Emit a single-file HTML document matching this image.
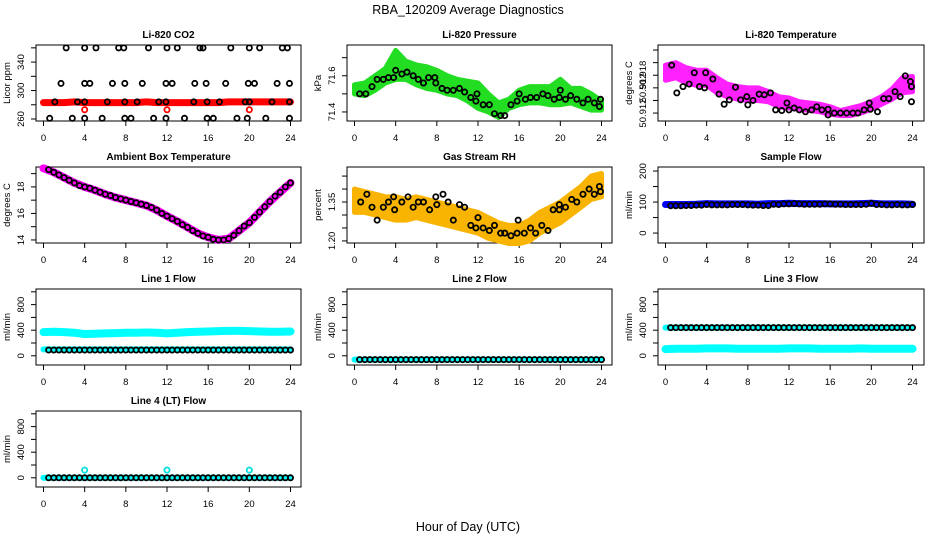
<!DOCTYPE html>
<html><head><meta charset="utf-8">
<style>
body{margin:0;background:#fff;}
svg{display:block;font-family:"Liberation Sans",Arial,sans-serif;}
</style></head>
<body>
<svg id="chart" width="936" height="540" viewBox="0 0 936 540">
<text x="468" y="14" text-anchor="middle" font-size="12.5">RBA_120209  Average Diagnostics</text>
<text x="468" y="531" text-anchor="middle" font-size="12.5">Hour of Day (UTC)</text>
</svg>
<script>
// ---- data arrays ----
const hourTicks = [0,4,8,12,16,20,24];
const bandHours = [0,1,2,3,4,5,6,7,8,9,10,11,12,13,14,15,16,17,18,19,20,21,22,23,24];
const halfHours = [0.5,1,1.5,2,2.5,3,3.5,4,4.5,5,5.5,6,6.5,7,7.5,8,8.5,9,9.5,10,10.5,11,11.5,12,12.5,13,13.5,14,14.5,15,15.5,16,16.5,17,17.5,18,18.5,19,19.5,20,20.5,21,21.5,22,22.5,23,23.5,24];

// CO2
const co2Hours = [2.2,4,5.1,7.3,7.8,10.2,12,13,15.2,15.5,18.2,20,21,23.2,23.7, 1.7,4,4.5,6.7,7.9,9.6,11.9,12.5,14.7,15.8,17.7,19.9,20.5,22.7,23.9, 1.1,3.3,4,6.2,7.9,9.1,11.2,11.9,14.6,15.9,17.1,19.6,20,22.2,23.9, 0.6,2.8,4,5.7,7.9,8.5,10.7,11.9,13.7,15.9,16.5,18.8,19.8,21.6,23.9];
const co2Values = [360,360,360,360,360,360,360,360,360,360,360,360,360,360,360, 310,310,310,310,310,310,310,310,310,310,310,310,310,310,310, 284,284,284,284,284,284,284,284,284,284,284,284,284,284,284, 261,261,261,261,261,261,261,261,261,261,261,261,261,261,261];
const co2Band = [283,283,283,284,283,283,283,283,283,283,284,283,283,283,283,283,283,283,284,284,284,284,284,284,284];
const co2RedHours = [4,12,20];
const co2RedValues = [273,273,273];

// Pressure
const presLo = [71.50,71.49,71.52,71.56,71.58,71.58,71.55,71.53,71.52,71.50,71.49,71.46,71.42,71.40,71.37,71.42,71.44,71.45,71.45,71.44,71.44,71.45,71.43,71.41,71.41];
const presHi = [71.55,71.56,71.60,71.64,71.74,71.68,71.66,71.65,71.63,71.60,71.58,71.57,71.56,71.50,71.45,71.47,71.52,71.54,71.54,71.54,71.58,71.53,71.53,71.50,71.46];
const presHours = [0.5,1.1,1.7,2.2,2.8,3.3,3.8,4,4.6,5.1,5.7,6.2,6.7,7.2,7.8,7.9,8.5,9,9.6,10.2,10.7,11.3,11.8,11.9,12.5,13.1,13.6,14.2,14.6,15.2,15.8,16,16.6,17.1,17.7,18.3,18.8,19.4,19.9,20,20.5,21,21.6,22.2,22.7,23.3,23.8,23.9];
const presValues = [71.50,71.50,71.54,71.58,71.58,71.59,71.59,71.63,71.61,71.62,71.60,71.58,71.56,71.59,71.59,71.56,71.53,71.52,71.52,71.53,71.51,71.48,71.46,71.50,71.44,71.44,71.39,71.38,71.38,71.44,71.46,71.50,71.47,71.48,71.48,71.50,71.49,71.47,71.48,71.52,71.47,71.49,71.47,71.45,71.47,71.45,71.43,71.47];

// Li-820 temperature (tick units)
const ltLo = [2.6,2.8,2.4,2.2,2.2,1.6,1.3,1.1,1.0,1.0,0.9,0.5,0.4,0.3,0.2,0.1,-0.1,-0.2,-0.2,0.0,0.3,0.7,1.1,1.6,1.7];
const ltHi = [3.8,4.0,3.6,3.4,3.4,2.8,2.3,2.1,2.0,2.0,1.7,1.3,1.2,0.9,0.8,0.7,0.5,0.2,0.4,0.6,0.9,1.3,1.9,2.8,2.9];
const ltHours = [0.6,1.1,1.7,2.3,2.8,3.3,3.8,3.9,4.6,5.2,5.7,6.2,6.8,7.3,7.9,8,8.5,9.1,9.6,10.2,10.7,11.3,11.8,12,12.5,13,13.6,14.2,14.7,15.2,15.8,15.8,16.4,17,17.6,18.2,18.7,19.3,19.8,19.9,20.6,21.2,21.7,22.3,22.8,23.3,23.8,23.9,23.9];
const ltValues = [3.8,1.6,2.1,2.3,3.2,2.1,2.0,3.2,2.7,1.5,0.7,1.05,2.05,1.05,1.3,0.65,1.0,1.5,1.45,1.6,0.25,0.2,0.8,0.25,0.4,0.25,0.1,0.25,0.5,0.25,0.3,-0.15,0,0,0,0,0,0.25,0.8,0.3,0.1,1.15,1.15,1.7,1.3,2.95,2.5,2.1,0.9];

// Ambient box temperature
const ambBand = [19.4,19.1,18.7,18.3,18.0,17.75,17.45,17.2,17.0,16.8,16.6,16.25,15.8,15.4,14.95,14.5,14.2,14.0,14.1,14.7,15.3,16.1,16.9,17.6,18.3];
const ambValues = [19.3,19.1,18.9,18.7,18.5,18.3,18.1,18.0,17.9,17.75,17.6,17.45,17.35,17.2,17.1,17.0,16.9,16.8,16.7,16.6,16.45,16.25,16.0,15.8,15.6,15.4,15.15,14.95,14.7,14.5,14.3,14.2,14.05,14.0,14.0,14.1,14.35,14.7,15.05,15.3,15.7,16.1,16.5,16.9,17.3,17.6,18.0,18.3];

// Gas stream RH
const rhLo = [1.31,1.31,1.30,1.29,1.28,1.28,1.29,1.28,1.27,1.26,1.25,1.24,1.23,1.21,1.20,1.19,1.19,1.20,1.23,1.25,1.27,1.30,1.33,1.36,1.37];
const rhHi = [1.40,1.39,1.38,1.37,1.37,1.36,1.37,1.36,1.35,1.34,1.33,1.32,1.31,1.29,1.27,1.26,1.26,1.28,1.31,1.33,1.35,1.38,1.41,1.45,1.46];
const rhHours = [0.6,1.2,1.7,2.2,2.8,3.3,3.8,3.9,4.6,5.2,5.7,6.2,6.7,7.3,7.9,8,8.6,9.1,9.6,10.2,10.7,11.3,11.8,12,12.5,13.1,13.6,14.2,14.6,15.2,15.8,15.9,16.5,17.1,17.6,18.2,18.8,19.3,19.9,19.9,20.5,21.1,21.6,22.2,22.8,23.3,23.8,23.9];
const rhValues = [1.35,1.38,1.33,1.28,1.33,1.35,1.37,1.32,1.35,1.37,1.33,1.35,1.35,1.32,1.37,1.34,1.38,1.35,1.28,1.34,1.33,1.26,1.25,1.29,1.25,1.24,1.26,1.23,1.23,1.22,1.23,1.28,1.23,1.25,1.23,1.26,1.24,1.32,1.32,1.34,1.33,1.36,1.35,1.38,1.40,1.38,1.41,1.39];

// Sample flow
const sampleBand = [92,92,92,93,95,94,94,94,94,93,95,95,96,95,95,95,94,94,94,95,96,94,94,94,93];
const sampleValues = [88,88,88,89,89,90,90,92,91,91,91,91,92,92,92,91,90,90,89,89,93,92,94,94,95,94,93,93,93,93,94,94,93,93,92,92,92,92,93,96,92,92,91,91,92,91,91,92];

// Line flows
const l1Upper = [370,375,370,360,340,345,350,355,360,360,365,360,350,360,370,375,380,385,390,390,385,380,375,375,380];
const l1Lower = [100,100,100,100,100,100,100,100,100,100,100,100,100,100,100,100,100,100,100,100,100,100,100,100,100];
const l1Values = [90,90,90,90,90,90,90,90,90,90,90,90,90,90,90,90,90,90,90,90,90,90,90,90,90,90,90,90,90,90,90,90,90,90,90,90,90,90,90,90,90,90,90,90,90,90,90,90];
const l2Band = [-60,-60,-60,-60,-60,-60,-60,-60,-60,-60,-60,-60,-60,-60,-60,-60,-60,-60,-60,-60,-60,-60,-60,-60,-60];
const l2Values = [-60,-60,-60,-60,-60,-60,-60,-60,-60,-60,-60,-60,-60,-60,-60,-60,-60,-60,-60,-60,-60,-60,-60,-60,-60,-60,-60,-60,-60,-60,-60,-60,-60,-60,-60,-60,-60,-60,-60,-60,-60,-60,-60,-60,-60,-60,-60,-60];
const l3Upper = [440,440,440,440,440,440,440,440,440,440,440,440,440,440,440,440,440,440,440,440,440,440,440,440,440];
const l3Lower = [105,110,110,110,115,115,115,110,110,110,110,110,115,115,115,110,110,110,110,115,110,110,110,110,110];
const l3Values = [440,440,440,440,440,440,440,440,440,440,440,440,440,440,440,440,440,440,440,440,440,440,440,440,440,440,440,440,440,440,440,440,440,440,440,440,440,440,440,440,440,440,440,440,440,440,440,440];
const l4Band = [0,0,0,0,0,0,0,0,0,0,0,0,0,0,0,0,0,0,0,0,0,0,0,0,0];
const l4Values = [0,0,0,0,0,0,0,0,0,0,0,0,0,0,0,0,0,0,0,0,0,0,0,0,0,0,0,0,0,0,0,0,0,0,0,0,0,0,0,0,0,0,0,0,0,0,0,0];
const l4OutHours = [4,12,20];
const l4OutValues = [120,120,120];

// ---- rendering ----
const NS = "http://www.w3.org/2000/svg";
const svg = document.getElementById('chart');
function mk(tag, attrs, parent){
  const e = document.createElementNS(NS, tag);
  for (const k in attrs) e.setAttribute(k, attrs[k]);
  (parent||svg).appendChild(e);
  return e;
}
const cols = [[36,301],[347,612],[658,924]];
const rows = [[45,121],[167,243],[289,365],[411,487]];

function panel(r, c, title, ylab, dom, yticks, ylabels, key){
  const [L,R] = cols[c], [T,B] = rows[r];
  const g = mk('g', {});
  
  
  const xs = h => L + 7.5 + h * (247/24);
  const ys = v => B - (v - dom[0]) / (dom[1]-dom[0]) * (B - T);
  const t = mk('text', {x:(L+R)/2, y:T-7, 'text-anchor':'middle', 'font-size':'10', 'font-weight':'bold'}, g);
  t.textContent = title;
  
  
  const box = mk('rect', {x:L, y:T, width:R-L, height:B-T, fill:'none', stroke:'#000', 'stroke-width':'1'}, g);
  
  
  const xa = mk('g', {}, g);
  
  
  hourTicks.forEach(h => {
    mk('line', {x1:xs(h), x2:xs(h), y1:B, y2:B+5, stroke:'#000'}, xa);
    const tl = mk('text', {x:xs(h), y:B+20, 'text-anchor':'middle', 'font-size':'9.5'}, xa);
    tl.textContent = h;
  });
  const ya = mk('g', {}, g);
  
  
  yticks.forEach((v, i) => {
    mk('line', {x1:L-5, x2:L, y1:ys(v), y2:ys(v), stroke:'#000'}, ya);
    if (ylabels[i]) {
      const tl = mk('text', {x:0, y:0, 'text-anchor':'middle', 'font-size':'9.5', transform:`translate(${L-12},${ys(v)}) rotate(-90)`}, ya);
      tl.textContent = ylabels[i];
    }
  });
  const yl = mk('text', {x:0, y:0, 'text-anchor':'middle', 'font-size':'9.5', transform:`translate(${L-26},${(T+B)/2}) rotate(-90)`}, g);
  yl.textContent = ylab;
  
  
  return {g, xs, ys};
}
function band(p, lo, hi, color, name){
  let d = bandHours.map((h,i) => (i?'L':'M') + p.xs(h) + ',' + p.ys(hi[i])).join('');
  for (let i = bandHours.length-1; i >= 0; i--) d += 'L' + p.xs(bandHours[i]) + ',' + p.ys(lo[i]);
  const e = mk('path', {d: d+'Z', fill:color, stroke:color, 'stroke-width':'5', 'stroke-linejoin':'round'}, p.g);
  
  
}
function line(p, vals, color, w, name){
  const d = bandHours.map((h,i) => (i?'L':'M') + p.xs(h) + ',' + p.ys(vals[i])).join('');
  const e = mk('path', {d, fill:'none', stroke:color, 'stroke-width':w, 'stroke-linecap':'round', 'stroke-linejoin':'round'}, p.g);
  
  
}
function pts(p, hours, vals, color, name){
  const g = mk('g', {}, p.g);
  
  
  hours.forEach((h,i) => {
    mk('circle', {cx:p.xs(h), cy:p.ys(vals[i]), r:'2.6', fill:'none', stroke:color, 'stroke-width':'1.8'}, g);
  });
}

// CO2
let p = panel(0,0,'Li-820 CO2','Licor ppm',[257.2,364],[260,280,300,320,340,360],['260','','300','','340',''],'co2');
line(p, co2Band, '#f00', 7, 'co2-band');
pts(p, co2RedHours, co2RedValues, '#f00', 'co2-red-points');
pts(p, co2Hours, co2Values, '#000', 'co2-mean-points');
// Pressure
p = panel(0,1,'Li-820 Pressure','kPa',[71.35,71.77],[71.4,71.5,71.6,71.7],['71.4','','71.6',''],'pressure');
band(p, presLo, presHi, '#22dd22', 'pressure-band');
pts(p, presHours, presValues, '#000', 'pressure-mean-points');
// Li-820 Temperature
p = panel(0,2,'Li-820 Temperature','degrees C',[-0.63,5.4],[0,1,2,3,4,5],['50.912','','50.912','50.918','',''],'licor-temp');
band(p, ltLo, ltHi, '#ff22ff', 'licor-temp-band');
pts(p, ltHours, ltValues, '#000', 'licor-temp-mean-points');
// Ambient
p = panel(1,0,'Ambient Box Temperature','degrees C',[13.77,19.5],[14,15,16,17,18,19],['14','','16','','18',''],'ambient');
line(p, ambBand, '#ff00ff', 8, 'ambient-band');
pts(p, halfHours, ambValues, '#000', 'ambient-mean-points');
// RH
p = panel(1,1,'Gas Stream RH','percent',[1.192,1.485],[1.20,1.25,1.30,1.35,1.40,1.45],['1.20','','','1.35','',''],'rh');
band(p, rhLo, rhHi, '#f8b400', 'rh-band');
pts(p, rhHours, rhValues, '#000', 'rh-mean-points');
// Sample flow
p = panel(1,2,'Sample Flow','ml/min',[-32,213],[0,50,100,150,200],['0','','100','','200'],'sample-flow');
line(p, sampleBand, '#0000ff', 7, 'sample-flow-band');
pts(p, halfHours, sampleValues, '#000', 'sample-flow-mean-points');
// Line flows
const fT = [0,200,400,600,800,1000], fL = ['0','','400','','800',''], fD = [-144,1044];
p = panel(2,0,'Line 1 Flow','ml/min',fD,fT,fL,'line1-flow');
line(p, l1Upper, '#00ffff', 8, 'line1-upper-band');
line(p, l1Lower, '#00ffff', 6, 'line1-lower-band');
pts(p, halfHours, l1Values, '#000', 'line1-mean-points');
p = panel(2,1,'Line 2 Flow','ml/min',fD,fT,fL,'line2-flow');
line(p, l2Band, '#00ffff', 6, 'line2-band');
pts(p, halfHours, l2Values, '#000', 'line2-mean-points');
p = panel(2,2,'Line 3 Flow','ml/min',fD,fT,fL,'line3-flow');
line(p, l3Upper, '#00ffff', 6, 'line3-upper-band');
line(p, l3Lower, '#00ffff', 8, 'line3-lower-band');
pts(p, halfHours, l3Values, '#000', 'line3-mean-points');
p = panel(3,0,'Line 4 (LT) Flow','ml/min',fD,fT,fL,'line4-flow');
line(p, l4Band, '#00ffff', 6, 'line4-band');
pts(p, l4OutHours, l4OutValues, '#00e0e0', 'line4-outlier-points');
pts(p, halfHours, l4Values, '#000', 'line4-mean-points');
</script>
</body></html>
